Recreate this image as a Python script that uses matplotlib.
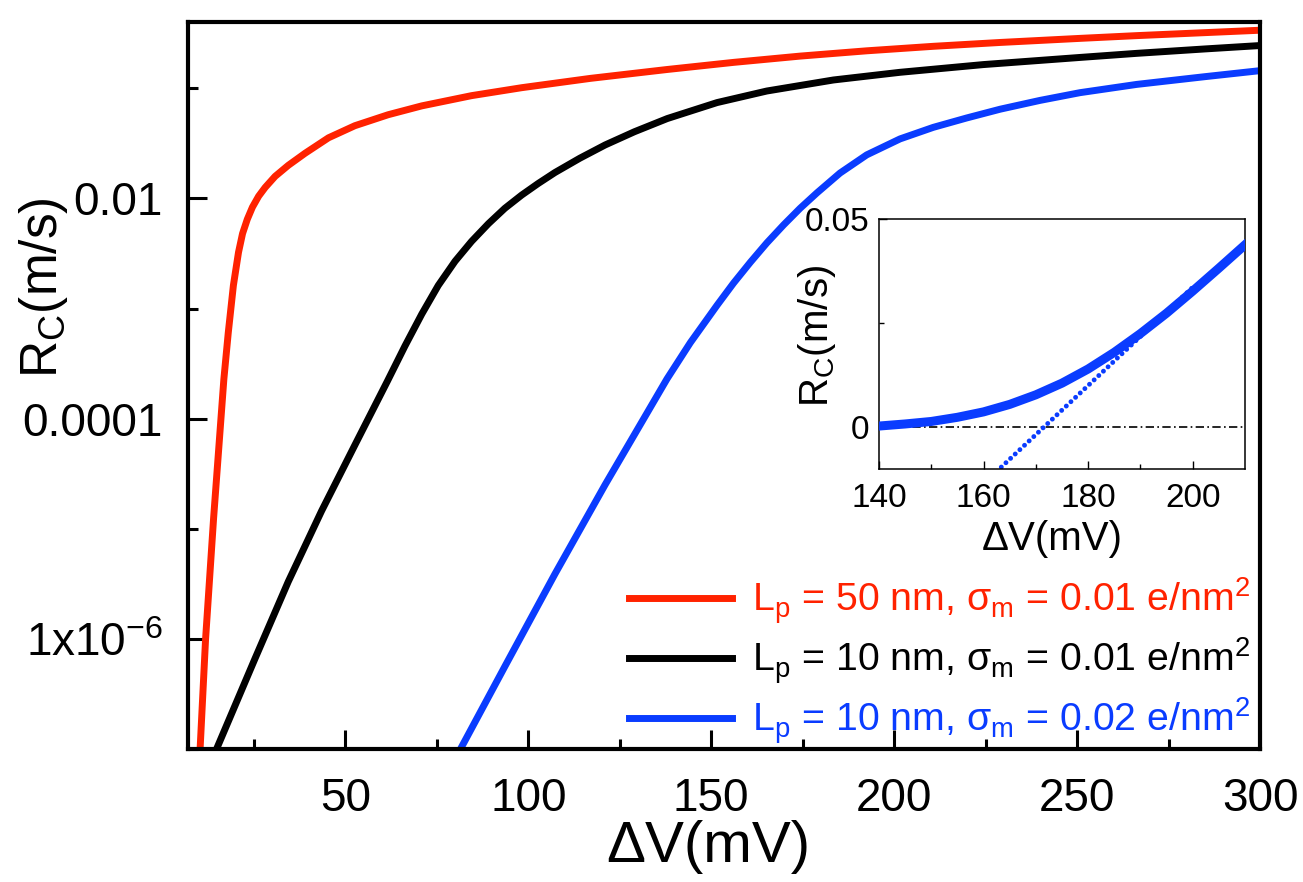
import matplotlib
matplotlib.use("Agg")
import matplotlib.pyplot as plt
from matplotlib.ticker import FixedLocator, NullFormatter

plt.rcParams['font.family'] = ['Liberation Sans', 'DejaVu Sans']
plt.rcParams['mathtext.fontset'] = 'custom'
plt.rcParams['mathtext.rm'] = 'Liberation Sans'
plt.rcParams['mathtext.it'] = 'Liberation Sans'
plt.rcParams['mathtext.bf'] = 'Liberation Sans:bold'
plt.rcParams['mathtext.default'] = 'regular'

# main panel: capture rate vs voltage
v_red = [10.3, 11.8, 14.0, 16.8, 18.0, 19.4, 20.8, 21.9, 23.2, 24.6, 26.3,
         28.1, 30.8, 34.4, 39.0, 45.4, 52.6, 61.7, 70.9, 84.5, 98.2, 117.0,
         137.9, 156.1, 174.3, 192.5, 210.7, 229.0, 250.8, 266.3, 284.9, 300.0]
rc_red = [1.0e-7, 1.0e-6, 1.26e-5, 2.29e-4, 6.03e-4, 1.62e-3, 3.24e-3, 4.79e-3,
          6.46e-3, 8.32e-3, 0.01047, 0.01259, 0.01585, 0.01995, 0.0257,
          0.0355, 0.0457, 0.0575, 0.0692, 0.0857, 0.1012, 0.123, 0.148,
          0.1718, 0.1959, 0.2188, 0.2404, 0.2606, 0.2838, 0.3006, 0.3199,
          0.3365]

v_black = [14.8, 25.3, 34.4, 43.5, 52.6, 61.5, 66.3, 70.9, 75.4, 80.0, 84.5,
           89.1, 93.6, 98.2, 102.7, 107.3, 114.1, 121.0, 129.0, 138.0, 151.6,
           165.2, 183.4, 201.6, 224.4, 250.8, 266.3, 284.9, 300.0]
rc_black = [1.0e-7, 6.61e-7, 3.31e-6, 1.45e-5, 5.75e-5, 2.19e-4, 4.57e-4,
            8.91e-4, 1.62e-3, 2.69e-3, 4.07e-3, 5.89e-3, 8.13e-3, 0.01072,
            0.01365, 0.01718, 0.02317, 0.03055, 0.04027, 0.05309, 0.07413,
            0.09441, 0.1189, 0.1396, 0.1641, 0.1905, 0.2075, 0.2275, 0.2443]

v_blue = [81.8, 93.6, 107.3, 121.0, 137.9, 144.3, 151.6, 156.1, 160.7, 165.2,
          169.8, 174.3, 178.9, 185.2, 192.5, 201.6, 210.7, 219.8, 229.0, 239.9,
          250.8, 266.3, 284.9, 300.0]
rc_blue = [1.047e-7, 5.62e-7, 3.89e-6, 2.51e-5, 2.29e-4, 4.90e-4, 1.07e-3,
           1.70e-3, 2.63e-3, 3.94e-3, 5.75e-3, 8.13e-3, 0.01122, 0.01698,
           0.02483, 0.03467, 0.04416, 0.0537, 0.06457, 0.07762, 0.0912,
           0.1084, 0.1274, 0.1445]

labels = [r"L$_p$ = 50 nm, σ$_m$ = 0.01 e/nm$^2$",
          r"L$_p$ = 10 nm, σ$_m$ = 0.01 e/nm$^2$",
          r"L$_p$ = 10 nm, σ$_m$ = 0.02 e/nm$^2$"]
colors = ['#ff2200', 'black', '#0a3cff']

# inset: blue curve on linear scale plus linear fit
inset_v = [140, 145, 150, 155, 160, 165, 170, 175, 180, 185, 190, 195, 200,
           205, 210]
inset_rc = [0.0003, 0.0008, 0.0014, 0.0024, 0.0037, 0.0055, 0.0078, 0.0106,
            0.0140, 0.0180, 0.0225, 0.0274, 0.0327, 0.0382, 0.0438]
fit_v = [162.5, 200.0]
fit_rc = [-0.0106, 0.0336]

fig = plt.figure(figsize=(13.03, 8.82), dpi=100)
ax = fig.add_axes([0.1443, 0.1508, 0.8227, 0.8243])

ax.plot(v_red, rc_red, color=colors[0], lw=5, label=labels[0])
ax.plot(v_black, rc_black, color=colors[1], lw=5, label=labels[1])
ax.plot(v_blue, rc_blue, color=colors[2], lw=5, label=labels[2])

ax.set_yscale('log')
ax.set_xlim(7, 300)
ax.set_ylim(1e-7, 0.4)

ax.xaxis.set_major_locator(FixedLocator([50, 100, 150, 200, 250, 300]))
ax.xaxis.set_minor_locator(FixedLocator([25, 75, 125, 175, 225, 275]))
ax.yaxis.set_major_locator(FixedLocator([1e-6, 1e-4, 1e-2]))
ax.set_yticklabels([r"1x10$^{-6}$", "0.0001", "0.01"])
ax.yaxis.set_minor_locator(FixedLocator([1e-7, 1e-5, 1e-3, 1e-1]))
ax.yaxis.set_minor_formatter(NullFormatter())

for s in ax.spines.values():
    s.set_linewidth(3)
ax.tick_params(which='both', direction='in', top=False, right=False, width=2.2)
ax.tick_params(which='major', length=14, labelsize=33)
ax.tick_params(axis='x', which='major', pad=20)
ax.tick_params(axis='y', which='major', pad=18)
ax.tick_params(which='minor', length=7)

ax.set_xlabel("ΔV(mV)", fontsize=42)
ax.xaxis.set_label_coords(0.485, -0.098)
ax.set_ylabel("R$_C$(m/s)", fontsize=37)
ax.yaxis.set_label_coords(-0.11, 0.634)

leg = ax.legend(loc='upper left', bbox_to_anchor=(0.4115, 0.239), frameon=False,
                fontsize=28.3, handlelength=2.62, handletextpad=0.5,
                labelspacing=0.25, borderpad=0, borderaxespad=0,
                labelcolor='linecolor')
for h in leg.get_lines():
    h.set_linewidth(5)

# inset
axin = fig.add_axes([0.6746, 0.4683, 0.2809, 0.2834])
axin.axhline(0, color='black', lw=1.2, ls=(0, (5, 2, 1, 2)), zorder=1)
axin.plot(fit_v, fit_rc, color=colors[2], lw=3.5, ls=(0, (0.01, 1.3)),
          dash_capstyle='round', zorder=2)
axin.plot(inset_v, inset_rc, color=colors[2], lw=6.5, zorder=3)
axin.set_xlim(140, 210)
axin.set_ylim(-0.01, 0.05)
axin.xaxis.set_major_locator(FixedLocator([140, 160, 180, 200]))
axin.xaxis.set_minor_locator(FixedLocator([150, 170, 190]))
axin.yaxis.set_major_locator(FixedLocator([0, 0.05]))
axin.set_yticklabels(["0", "0.05"])
axin.yaxis.set_minor_locator(FixedLocator([0.025]))
for s in axin.spines.values():
    s.set_linewidth(1.1)
axin.tick_params(which='both', direction='in', top=False, right=False, width=1.0)
axin.tick_params(which='major', length=5.5, labelsize=24, pad=7)
axin.tick_params(axis='x', which='major', pad=10)
axin.tick_params(which='minor', length=3.5)
axin.set_xlabel("ΔV(mV)", fontsize=29)
axin.xaxis.set_label_coords(0.473, -0.205)
axin.set_ylabel("R$_C$(m/s)", fontsize=29)
axin.yaxis.set_label_coords(-0.112, 0.53)

fig.savefig("out.png", dpi=100)
